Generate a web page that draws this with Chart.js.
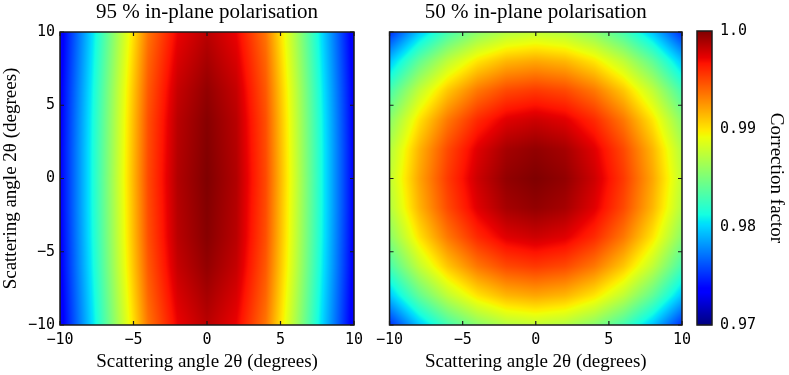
<!DOCTYPE html>
<html><head><meta charset="utf-8">
<script src="https://cdn.jsdelivr.net/npm/chart.js@4.4.1/dist/chart.umd.min.js"></script>
<style>
html,body{margin:0;padding:0;background:#fff;width:789px;height:375px;overflow:hidden}
.box{position:absolute;top:0}
canvas{display:block}
</style></head><body>
<div class="box" style="left:0;width:370px;height:375px"><canvas id="c1" width="370" height="375"></canvas></div>
<div class="box" style="left:370px;width:330px;height:375px"><canvas id="c2" width="330" height="375"></canvas></div>
<div class="box" style="left:690px;width:99px;height:375px"><canvas id="c3" width="99" height="375"></canvas></div>
<script>
// ---- data ----
const panelTitles = ['95 % in-plane polarisation', '50 % in-plane polarisation'];
const axisTitle = 'Scattering angle 2θ (degrees)';
const colorbarTitle = 'Correction factor';
const angleTicks = [-10, -5, 0, 5, 10];
const colorbarTicks = [0.97, 0.98, 0.99, 1.0];
const colorbarLabels = ['0.97', '0.98', '0.99', '1.0'];
const colorRange = [0.97, 1.0];
// grid columns (x, degrees) and rows (y, degrees, bottom to top)
const gridX = [-10, -8, -6, -4, -2, 0, 2, 4, 6, 8, 10];
const gridY = [-10, -8, -6, -4, -2, 0, 2, 4, 6, 8, 10];
// correction factor, 95 % in-plane polarisation (rows follow gridY)
const factor95 = [
  [0.9729,0.9796,0.9868,0.9936,0.9972,0.9985,0.9972,0.9936,0.9868,0.9796,0.9729],
  [0.9731,0.9799,0.9872,0.9941,0.9977,0.9990,0.9977,0.9941,0.9872,0.9799,0.9731],
  [0.9733,0.9802,0.9876,0.9945,0.9982,0.9995,0.9982,0.9945,0.9876,0.9802,0.9733],
  [0.9734,0.9804,0.9878,0.9948,0.9985,0.9998,0.9985,0.9948,0.9878,0.9804,0.9734],
  [0.9735,0.9805,0.9879,0.9949,0.9986,0.9999,0.9986,0.9949,0.9879,0.9805,0.9735],
  [0.9735,0.9805,0.9880,0.9950,0.9987,1.0000,0.9987,0.9950,0.9880,0.9805,0.9735],
  [0.9735,0.9805,0.9879,0.9949,0.9986,0.9999,0.9986,0.9949,0.9879,0.9805,0.9735],
  [0.9734,0.9804,0.9878,0.9948,0.9985,0.9998,0.9985,0.9948,0.9878,0.9804,0.9734],
  [0.9733,0.9802,0.9876,0.9945,0.9982,0.9995,0.9982,0.9945,0.9876,0.9802,0.9733],
  [0.9731,0.9799,0.9872,0.9941,0.9977,0.9990,0.9977,0.9941,0.9872,0.9799,0.9731],
  [0.9729,0.9796,0.9868,0.9936,0.9972,0.9985,0.9972,0.9936,0.9868,0.9796,0.9729]
];
// correction factor, 50 % in-plane polarisation (rows follow gridY)
const factor50 = [
  [0.9750,0.9795,0.9830,0.9855,0.9870,0.9875,0.9870,0.9855,0.9830,0.9795,0.9750],
  [0.9795,0.9840,0.9875,0.9900,0.9915,0.9920,0.9915,0.9900,0.9875,0.9840,0.9795],
  [0.9830,0.9875,0.9910,0.9935,0.9950,0.9955,0.9950,0.9935,0.9910,0.9875,0.9830],
  [0.9855,0.9900,0.9935,0.9960,0.9975,0.9980,0.9975,0.9960,0.9935,0.9900,0.9855],
  [0.9870,0.9915,0.9950,0.9975,0.9990,0.9995,0.9990,0.9975,0.9950,0.9915,0.9870],
  [0.9875,0.9920,0.9955,0.9980,0.9995,1.0000,0.9995,0.9980,0.9955,0.9920,0.9875],
  [0.9870,0.9915,0.9950,0.9975,0.9990,0.9995,0.9990,0.9975,0.9950,0.9915,0.9870],
  [0.9855,0.9900,0.9935,0.9960,0.9975,0.9980,0.9975,0.9960,0.9935,0.9900,0.9855],
  [0.9830,0.9875,0.9910,0.9935,0.9950,0.9955,0.9950,0.9935,0.9910,0.9875,0.9830],
  [0.9795,0.9840,0.9875,0.9900,0.9915,0.9920,0.9915,0.9900,0.9875,0.9840,0.9795],
  [0.9750,0.9795,0.9830,0.9855,0.9870,0.9875,0.9870,0.9855,0.9830,0.9795,0.9750]
];

// ---- colour map (jet) ----
const jetR = [[0,0],[0.35,0],[0.66,1],[0.89,1],[1,0.5]];
const jetG = [[0,0],[0.125,0],[0.375,1],[0.64,1],[0.91,0],[1,0]];
const jetB = [[0,0.5],[0.11,1],[0.34,1],[0.65,0],[1,0]];
function seg(s, t){
  for (let i=1;i<s.length;i++){
    if (t <= s[i][0]) { const a=s[i-1], b=s[i]; return a[1] + (b[1]-a[1])*(t-a[0])/(b[0]-a[0]); }
  }
  return s[s.length-1][1];
}
function jet(v){
  let t = (v-colorRange[0])/(colorRange[1]-colorRange[0]);
  t = Math.max(0, Math.min(1, t));
  return [seg(jetR,t)*255, seg(jetG,t)*255, seg(jetB,t)*255];
}
function sample(grid, x, y){
  const sx = (x-gridX[0])/(gridX[1]-gridX[0]), sy = (y-gridY[0])/(gridY[1]-gridY[0]);
  const nx = gridX.length-1, ny = gridY.length-1;
  let i = Math.min(nx-1, Math.max(0, Math.floor(sx))), j = Math.min(ny-1, Math.max(0, Math.floor(sy)));
  const fx = Math.max(0, Math.min(1, sx-i)), fy = Math.max(0, Math.min(1, sy-j));
  const a = grid[j][i], b = grid[j][i+1], c = grid[j+1][i], d = grid[j+1][i+1];
  return (a*(1-fx)+b*fx)*(1-fy) + (c*(1-fx)+d*fx)*fy;
}

function makeHeat(grid){
  return {
    id: 'heat',
    beforeDatasetsDraw(chart){
      const {left, top, right, bottom} = chart.chartArea;
      const xs = chart.scales.x, ys = chart.scales.y;
      const w = Math.round(right-left), h = Math.round(bottom-top);
      const off = document.createElement('canvas'); off.width = w; off.height = h;
      const octx = off.getContext('2d'); const img = octx.createImageData(w, h);
      for (let j=0;j<h;j++){
        const yv = ys.getValueForPixel(top + (j+0.5)*(bottom-top)/h);
        for (let i=0;i<w;i++){
          const xv = xs.getValueForPixel(left + (i+0.5)*(right-left)/w);
          const c = jet(sample(grid, xv, yv));
          const k = (j*w+i)*4;
          img.data[k]=c[0]; img.data[k+1]=c[1]; img.data[k+2]=c[2]; img.data[k+3]=255;
        }
      }
      octx.putImageData(img, 0, 0);
      chart.ctx.drawImage(off, left, top, right-left, bottom-top);
    },
    afterDraw(chart){
      const ctx = chart.ctx; const {left, top, right, bottom} = chart.chartArea;
      const xs = chart.scales.x, ys = chart.scales.y;
      ctx.save();
      ctx.strokeStyle = '#1a1a1a'; ctx.lineWidth = 1.5;
      ctx.strokeRect(left, top, right-left, bottom-top);
      ctx.lineWidth = 1.2;
      ctx.beginPath();
      const L = 4;
      angleTicks.forEach(v => {
        const px = xs.getPixelForValue(v), py = ys.getPixelForValue(v);
        ctx.moveTo(px, bottom); ctx.lineTo(px, bottom-L);
        ctx.moveTo(px, top); ctx.lineTo(px, top+L);
        ctx.moveTo(left, py); ctx.lineTo(left+L, py);
        ctx.moveTo(right, py); ctx.lineTo(right-L, py);
      });
      ctx.stroke();
      ctx.restore();
    }
  };
}

const tickFont = {family: 'DejaVu Sans Mono', size: 15};
const serifTitle = {family: 'Liberation Serif', size: 19};
const fmtAngle = v => (v < 0 ? '\u2212' : '') + Math.abs(v);

function xScale(){
  return {
    type: 'linear', min: -10, max: 10,
    afterBuildTicks: s => { s.ticks = angleTicks.map(v => ({value: v})); },
    ticks: {callback: fmtAngle, font: tickFont, color: '#000', padding: 6, maxRotation: 0, autoSkip: false},
    grid: {display: false, drawTicks: false},
    border: {display: false},
    title: {display: true, text: axisTitle, font: serifTitle, color: '#000', padding: {top: 0, bottom: 2}},
    afterFit: s => { s.height = 50; }
  };
}
function points(){
  const pts = [];
  gridY.forEach(y => gridX.forEach(x => pts.push({x, y})));
  return pts;
}
function heatChart(id, grid, title, showY, pad){
  const yScale = {
    type: 'linear', min: -10, max: 10, display: showY,
    afterBuildTicks: s => { s.ticks = angleTicks.map(v => ({value: v})); },
    ticks: {callback: fmtAngle, font: tickFont, color: '#000', padding: 5, autoSkip: false},
    grid: {display: false, drawTicks: false},
    border: {display: false},
    title: {display: true, text: axisTitle, font: serifTitle, color: '#000', padding: {top: 0, bottom: 0}}
  };
  if (showY) yScale.afterFit = s => { s.width = 60; };
  return new Chart(document.getElementById(id), {
    type: 'scatter',
    data: {datasets: [{data: points(), pointRadius: 0, pointHoverRadius: 0}]},
    options: {
      responsive: false, animation: false, devicePixelRatio: 1, events: [],
      layout: {padding: pad},
      plugins: {
        legend: {display: false}, tooltip: {enabled: false},
        title: {display: true, text: title, fullSize: false, color: '#000',
                font: {family: 'Liberation Serif', size: 21, weight: 'normal'}, padding: {top: 0, bottom: 6.8}}
      },
      scales: { x: xScale(), y: yScale }
    },
    plugins: [makeHeat(grid)]
  });
}
heatChart('c1', factor95, panelTitles[0], true, {left: 0, right: 16, top: 0, bottom: 0});
heatChart('c2', factor50, panelTitles[1], false, {left: 18, right: 18, top: 0, bottom: 0});

const colorbarPlugin = {
  id: 'cbar',
  beforeDatasetsDraw(chart){
    const {left, top, right, bottom} = chart.chartArea; const ys = chart.scales.y; const ctx = chart.ctx;
    const h = Math.round(bottom-top);
    for (let j=0;j<h;j++){
      const c = jet(ys.getValueForPixel(top + j + 0.5));
      ctx.fillStyle = `rgb(${c[0]|0},${c[1]|0},${c[2]|0})`;
      ctx.fillRect(left, top + j, right-left, 1.2);
    }
  },
  afterDraw(chart){
    const {left, top, right, bottom} = chart.chartArea; const ctx = chart.ctx;
    ctx.save(); ctx.strokeStyle = '#1a1a1a'; ctx.lineWidth = 1.5;
    ctx.strokeRect(left, top, right-left, bottom-top); ctx.restore();
  }
};
new Chart(document.getElementById('c3'), {
  type: 'scatter',
  data: {datasets: [{data: [], pointRadius: 0}]},
  options: {
    responsive: false, animation: false, devicePixelRatio: 1, events: [],
    layout: {padding: {left: 7, right: 0, top: 31, bottom: 50}},
    plugins: {legend: {display: false}, tooltip: {enabled: false}},
    scales: {
      x: {type: 'linear', display: false, min: 0, max: 1},
      y: {
        type: 'linear', position: 'right', min: colorRange[0], max: colorRange[1],
        afterBuildTicks: s => { s.ticks = colorbarTicks.map(v => ({value: v})); },
        ticks: {callback: (v, i) => colorbarLabels[i], font: tickFont, color: '#000', padding: 8, autoSkip: false},
        grid: {display: false, drawTicks: false},
        border: {display: false},
        title: {display: true, text: colorbarTitle, font: serifTitle, color: '#000', padding: {top: 2, bottom: 0}},
        afterFit: s => { s.width = 77; }
      }
    }
  },
  plugins: [colorbarPlugin]
});
</script>
</body></html>
